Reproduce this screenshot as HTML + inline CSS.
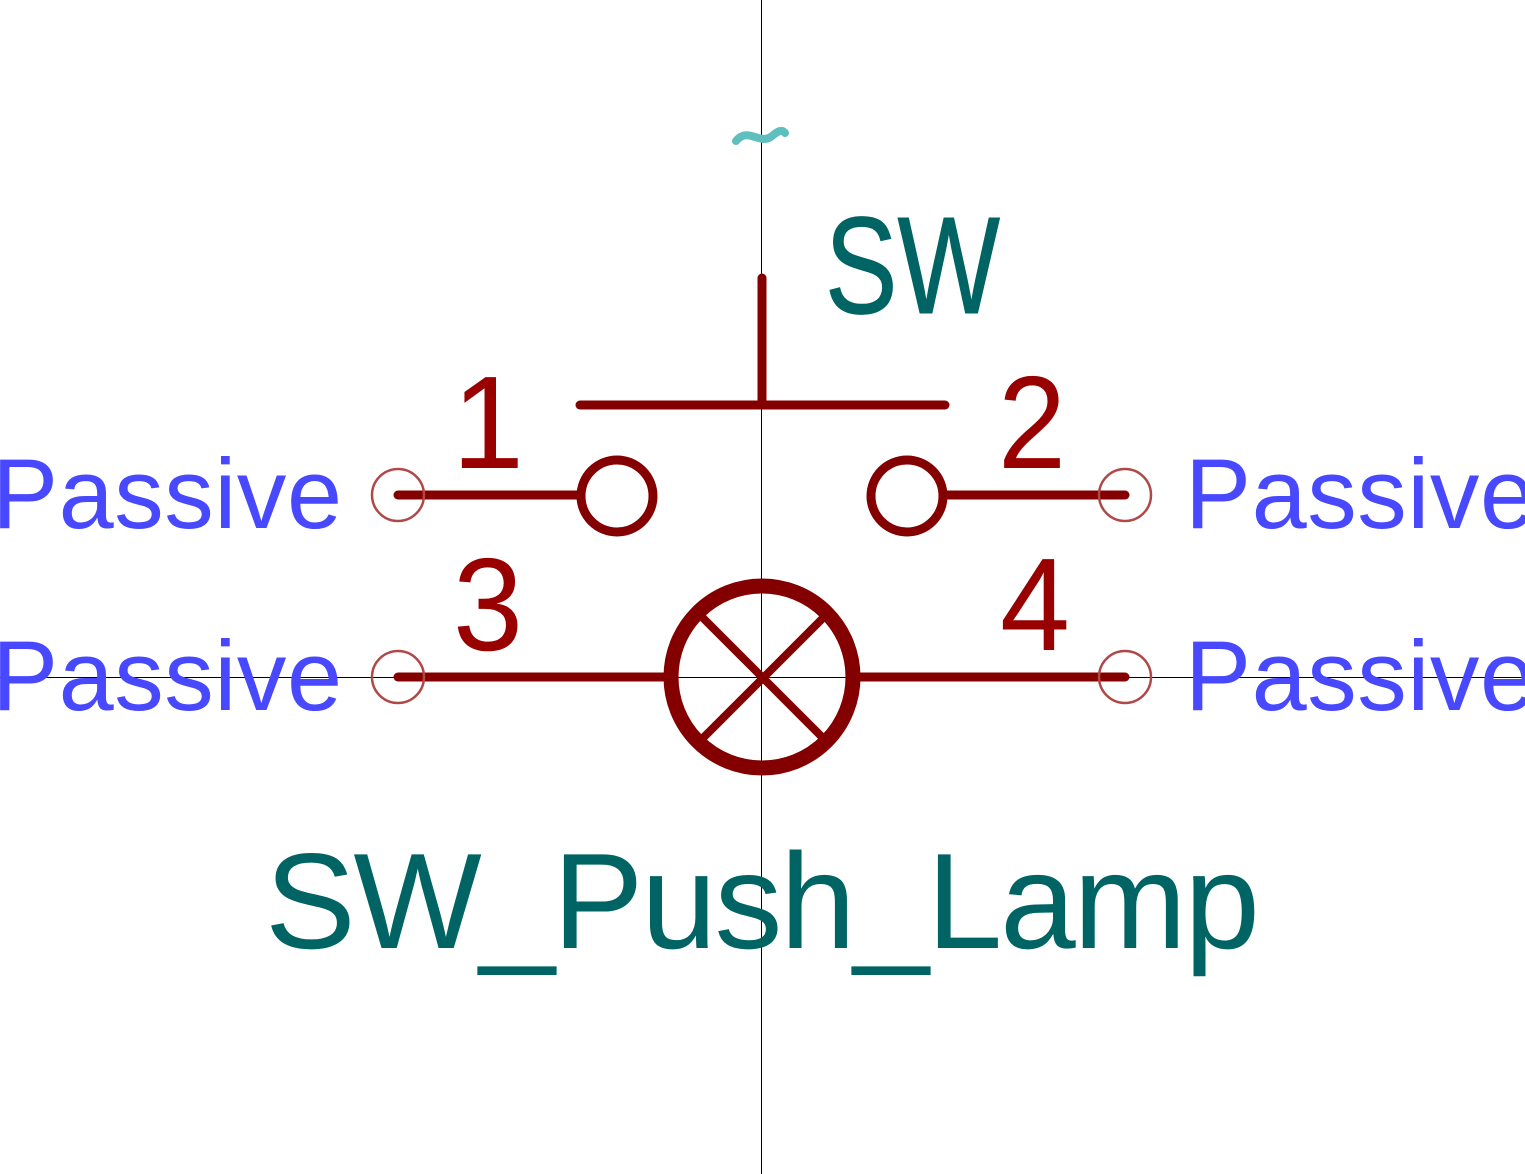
<!DOCTYPE html>
<html><head><meta charset="utf-8"><style>
html,body{margin:0;padding:0;background:#fff;width:1525px;height:1174px;overflow:hidden}
svg{display:block}
text{font-family:"Liberation Sans",sans-serif}
</style></head><body>
<svg width="1525" height="1174" viewBox="0 0 1525 1174" xmlns="http://www.w3.org/2000/svg">
<rect width="1525" height="1174" fill="#ffffff"/>
<g stroke="#000" stroke-width="1">
<line x1="761.5" y1="0" x2="761.5" y2="1174"/>
<line x1="0" y1="677.5" x2="1525" y2="677.5"/>
</g>
<path d="M736,141 C748,126 760,146 772,136 C778,131 782,129 785,133" stroke="#5ebfbf" stroke-width="8" fill="none" stroke-linecap="round"/>
<text x="825" y="313" font-size="138" fill="#006464" textLength="175" lengthAdjust="spacingAndGlyphs" stroke="#006464" stroke-width="1">SW</text>
<g stroke="#840000" stroke-width="9" stroke-linecap="round" fill="none">
<line x1="762" y1="278" x2="762" y2="405"/>
<line x1="580" y1="405" x2="945" y2="405"/>
<circle cx="617" cy="496" r="36"/>
<circle cx="907" cy="496" r="36"/>
<line x1="398" y1="495" x2="580" y2="495"/>
<line x1="945" y1="495" x2="1125" y2="495"/>
<line x1="398" y1="677" x2="667" y2="677"/>
<line x1="857" y1="677" x2="1125" y2="677"/>
</g>
<g stroke="#840000" fill="none" stroke-linecap="round">
<circle cx="762" cy="677" r="91" stroke-width="15"/>
<line x1="703" y1="618" x2="823" y2="738" stroke-width="8"/>
<line x1="823" y1="618" x2="703" y2="738" stroke-width="8"/>
</g>
<g stroke="#b04848" stroke-width="2.5" fill="none">
<circle cx="398" cy="495" r="26"/>
<circle cx="1125" cy="495" r="26"/>
<circle cx="398" cy="677" r="26"/>
<circle cx="1125" cy="677" r="26"/>
</g>
<g fill="#990000" font-size="132">
<text x="452" y="468" textLength="72" lengthAdjust="spacingAndGlyphs">1</text>
<text x="998" y="468" textLength="68" lengthAdjust="spacingAndGlyphs">2</text>
<text x="453" y="650" textLength="70" lengthAdjust="spacingAndGlyphs">3</text>
<text x="1000" y="650" textLength="70" lengthAdjust="spacingAndGlyphs">4</text>
</g>
<g fill="#4848ff" font-size="99">
<text x="-8" y="528" textLength="350" lengthAdjust="spacing">Passive</text>
<text x="1185" y="528" textLength="350" lengthAdjust="spacing">Passive</text>
<text x="-8" y="710" textLength="350" lengthAdjust="spacing">Passive</text>
<text x="1185" y="710" textLength="350" lengthAdjust="spacing">Passive</text>
</g>
<text x="265" y="948" font-size="136" fill="#006464" textLength="995" lengthAdjust="spacing">SW_Push_Lamp</text>
</svg>
</body></html>
